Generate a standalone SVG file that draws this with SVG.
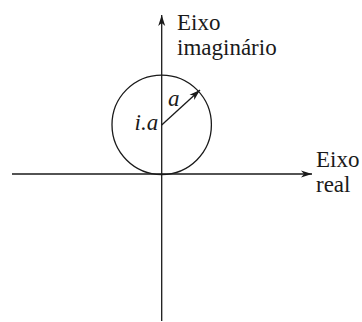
<svg xmlns="http://www.w3.org/2000/svg" width="362" height="322" viewBox="0 0 362 322">
<style>
.ax{stroke:#1a1a1a;stroke-width:1.3;fill:none}
.t{font-family:"Liberation Serif","Times New Roman",serif;font-size:23px;fill:#1a1a1a}
.i{font-style:italic}
</style>
<defs>
<marker id="ah" viewBox="0 0 11 8" refX="11" refY="4" markerWidth="11" markerHeight="8" markerUnits="userSpaceOnUse" orient="auto">
<path d="M0,0.5 L11,4 L0,7.5 L3,4 Z" fill="#1a1a1a"/>
</marker>
</defs>
<rect width="362" height="322" fill="#fff"/>
<g id="connectors">
<line class="ax" x1="161.7" y1="321" x2="161.7" y2="15" marker-end="url(#ah)"/>
<line class="ax" x1="12" y1="174" x2="312" y2="174" marker-end="url(#ah)"/>
<line class="ax" x1="161.7" y1="125" x2="200" y2="90" marker-end="url(#ah)"/>
</g>
<g id="circle">
<circle class="ax" cx="161.7" cy="124.8" r="49.7"/>
</g>
<g id="label-imag">
<text class="t" x="177" y="30">Eixo</text>
<text class="t" x="177" y="55">imaginário</text>
</g>
<g id="label-real">
<text class="t" x="316" y="167">Eixo</text>
<text class="t" x="316" y="192">real</text>
</g>
<g id="label-center">
<text class="t i" x="134.5" y="130">i.a</text>
</g>
<g id="label-radius">
<text class="t i" x="168" y="106">a</text>
</g>
</svg>
